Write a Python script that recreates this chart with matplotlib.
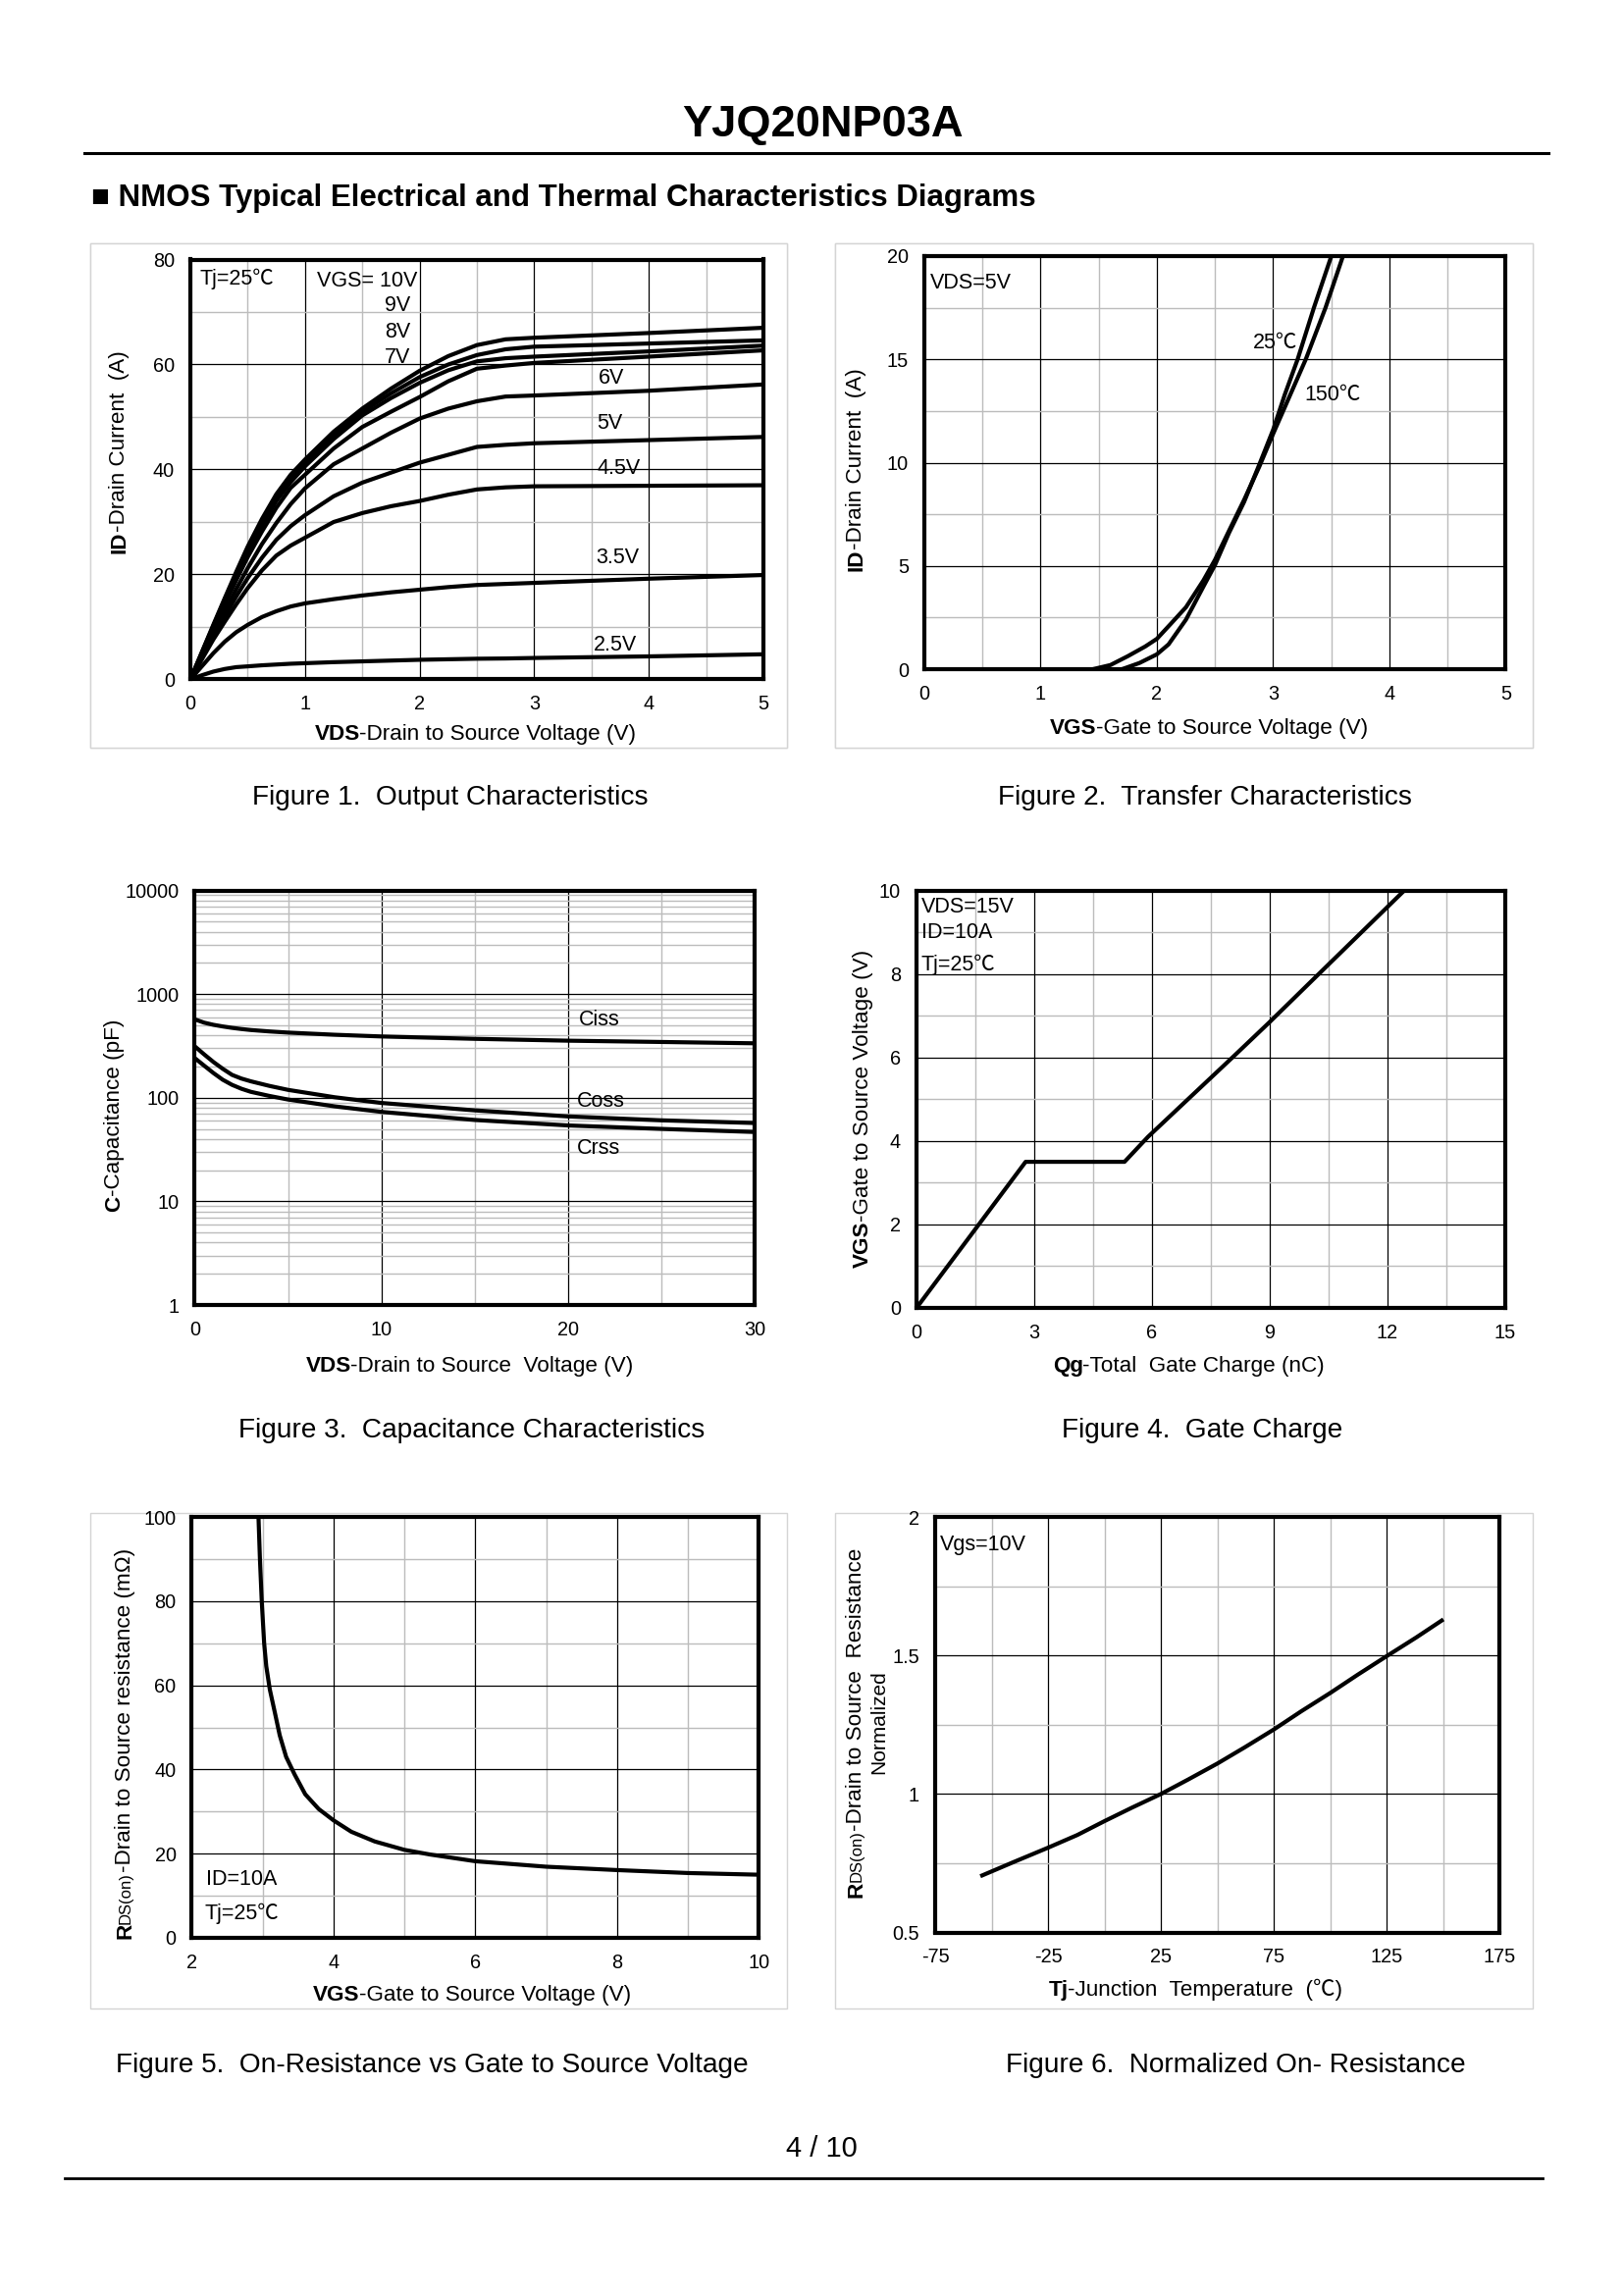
import matplotlib
matplotlib.use("Agg")
import matplotlib.pyplot as plt
from matplotlib.patches import Rectangle
from matplotlib.lines import Line2D
from matplotlib.ticker import NullFormatter

plt.rcParams['font.family'] = ['Liberation Sans', 'Noto Sans CJK SC', 'DejaVu Sans']
W, H = 1656, 2339
DPI = 100

# ---- Figure 1 data
f1_x = [0, .1, .2, .3, .4, .5, .625, .75, .875, 1, 1.25, 1.5, 1.75, 2, 2.25, 2.5, 2.75, 3, 4, 5]
f1_10v = [0, 5.2, 10.4, 15.5, 20.5, 25.3, 30.6, 35.3, 39, 41.9, 47.2, 51.6, 55.4, 58.8, 61.6, 63.7, 64.8, 65.1, 66, 67]
f1_9v = [0, 5.1, 10.2, 15.2, 20.1, 24.8, 30, 34.7, 38.4, 41.3, 46.5, 51, 54.5, 57.6, 60, 61.8, 62.9, 63.4, 64, 64.6]
f1_8v = [0, 5, 10, 14.9, 19.7, 24.3, 29.4, 34, 37.6, 40.6, 45.8, 50.3, 53.6, 56.5, 58.9, 60.6, 61.2, 61.5, 62.5, 63.6]
f1_7v = [0, 4.8, 9.6, 14.3, 18.9, 23.3, 28.2, 32.7, 36.5, 39, 44, 48.1, 51, 53.8, 56.8, 59.2, 59.8, 60.3, 61.5, 62.7]
f1_6v = [0, 4.4, 8.8, 13, 17.2, 21.2, 25.8, 29.8, 33.4, 36.4, 41, 44, 47, 49.7, 51.6, 53, 53.9, 54.1, 55, 56.2]
f1_5v = [0, 4.1, 8.1, 12, 15.8, 19.3, 23.2, 26.6, 29.2, 31.3, 34.9, 37.5, 39.4, 41.3, 42.8, 44.3, 44.7, 45, 45.6, 46.2]
f1_45v = [0, 3.8, 7.6, 11, 14.3, 17.4, 20.8, 23.6, 25.5, 27, 30, 31.7, 33, 34, 35.2, 36.2, 36.6, 36.8, 36.9, 37]
f1_35v = [0, 2.5, 5, 7.2, 9, 10.4, 11.9, 13, 13.9, 14.5, 15.3, 16, 16.6, 17.1, 17.6, 18, 18.2, 18.4, 19.2, 19.9]
f1_25v = [0, .8, 1.5, 2, 2.35, 2.5, 2.7, 2.85, 3, 3.1, 3.3, 3.45, 3.6, 3.75, 3.85, 3.95, 4, 4.1, 4.4, 4.8]
f1_series = [f1_10v, f1_9v, f1_8v, f1_7v, f1_6v, f1_5v, f1_45v, f1_35v, f1_25v]

# ---- Figure 2 data
f2_x_150 = [1.45, 1.6, 1.75, 1.9, 2, 2.12, 2.25, 2.4, 2.5, 2.62, 2.75, 2.88, 3, 3.14, 3.28, 3.45, 3.6]
f2_150 = [0, 0.2, 0.63, 1.1, 1.47, 2.2, 3, 4.3, 5.3, 6.7, 8.2, 9.8, 11.4, 13.2, 15, 17.5, 20]
f2_x_25 = [1.7, 1.75, 1.85, 2, 2.1, 2.25, 2.4, 2.5, 2.62, 2.75, 2.88, 3, 3.1, 3.21, 3.35, 3.5]
f2_25 = [0, 0.1, 0.3, 0.72, 1.2, 2.4, 4, 5.05, 6.6, 8.1, 9.9, 11.6, 13.3, 15, 17.5, 20]

# ---- Figure 3 data
f3_x = [0, 0.5, 1, 1.5, 2, 2.5, 3, 4, 5, 7.5, 10, 15, 20, 25, 30]
f3_ciss = [570, 530, 505, 487, 472, 460, 450, 436, 425, 405, 390, 370, 355, 345, 335]
f3_coss = [313, 262, 221, 190, 166, 153, 144, 130, 119, 101, 89, 75.5, 66, 60.5, 57]
f3_crss = [241, 204, 173, 149, 133, 122, 114, 104, 96, 82.5, 73, 61, 54, 50, 46.7]

# ---- Figure 4 data
f4_q = [0, 2.78, 5.3, 5.9, 8.05, 9, 10.25, 12.43]
f4_v = [0, 3.5, 3.5, 4.1, 6, 6.85, 8, 10]

# ---- Figure 5 data
f5_v = [2.94, 2.96, 2.986, 3.02, 3.05, 3.1, 3.17, 3.24, 3.33, 3.45, 3.6, 3.79, 4, 4.25, 4.58, 5, 5.36, 6, 7, 8, 9, 10]
f5_r = [100, 90.2, 80, 70, 64.5, 59, 53.6, 48.1, 43, 38.8, 34.1, 30.6, 27.9, 25.2, 22.9, 20.9, 19.8, 18.2, 16.9, 16.1, 15.4, 15]

# ---- Figure 6 data
f6_t = [-55, -40, -25, -12, 0, 12, 25, 37, 50, 62, 75, 87, 100, 112, 125, 138, 150]
f6_r = [0.703, 0.755, 0.806, 0.852, 0.902, 0.95, 1.0, 1.052, 1.11, 1.168, 1.233, 1.298, 1.365, 1.43, 1.498, 1.565, 1.63]

captions = ["Figure 1.  Output Characteristics", "Figure 2.  Transfer Characteristics",
            "Figure 3.  Capacitance Characteristics", "Figure 4.  Gate Charge",
            "Figure 5.  On-Resistance vs Gate to Source Voltage", "Figure 6.  Normalized On- Resistance"]

fig = plt.figure(figsize=(W / DPI, H / DPI), dpi=DPI, facecolor='white')


def fx(x):
    return x / W


def fy(y):
    return 1 - y / H


def ptext(x, y, s, **kw):
    kw.setdefault('ha', 'center')
    kw.setdefault('va', 'center')
    return fig.text(fx(x), fy(y), s, **kw)


def mixed(cx, cy, parts, rotation=0):
    """Centred run of (text, size, weight) parts at pixel centre."""
    r = fig.canvas.get_renderer()
    widths = []
    for s, size, weight in parts:
        t = fig.text(0, 0, s, fontsize=size, fontweight=weight)
        widths.append(t.get_window_extent(r).width - 0.5)
        t.remove()
    total = sum(widths)
    base = max(p[1] for p in parts) * DPI / 72 * 0.36
    pos = -total / 2
    for (s, size, weight), w in zip(parts, widths):
        if rotation == 0:
            x, y = cx + pos, cy + base
        else:
            x, y = cx + base, cy - pos
        fig.text(fx(x), fy(y), s, fontsize=size, fontweight=weight, rotation=rotation,
                 rotation_mode='anchor', ha='left', va='baseline')
        pos += w


def panel(frame, box, xlim, ylim, xticks, xlabels, yticks, ylabels, xminor, yminor, log=False):
    fig.add_artist(Rectangle((fx(frame[0]), fy(frame[3])), (frame[2] - frame[0]) / W,
                             (frame[3] - frame[1]) / H, transform=fig.transFigure,
                             fc='white', ec='#d4d4d4', lw=1, zorder=-5))
    ax = fig.add_axes([fx(box[0]), fy(box[3]), (box[2] - box[0]) / W, (box[3] - box[1]) / H])
    if log:
        ax.set_yscale('log')
    ax.set_xlim(xlim)
    ax.set_ylim(ylim)
    ax.set_xticks(xticks, xlabels, fontsize=14.3)
    ax.set_yticks(yticks, ylabels, fontsize=14.3)
    ax.set_xticks(xminor, minor=True)
    ax.set_yticks(yminor, minor=True)
    ax.xaxis.set_minor_formatter(NullFormatter())
    ax.yaxis.set_minor_formatter(NullFormatter())
    ax.tick_params(which='both', length=0)
    ax.tick_params(axis='x', pad=11.5)
    ax.tick_params(axis='y', pad=11.5)
    ax.grid(which='minor', color='#bcbcbc', lw=1.0)
    ax.grid(which='major', color='black', lw=0.9)
    ax.set_axisbelow(True)
    for s in ax.spines.values():
        s.set_linewidth(3.0)
        s.set_zorder(10)
    return ax


def curve(ax, x, y):
    ax.plot(x, y, color='black', lw=3.0, solid_joinstyle='round', solid_capstyle='butt', zorder=3)


def notes(ax, items):
    for x, y, s in items:
        ax.text(x, y, s, fontsize=15.5, ha='left', va='center', zorder=4)


LBL = 16.2
FX1 = (92, 248, 802, 762)
FX2 = (851.5, 248, 1562, 762)

# Figure 1
a = panel(FX1, (194, 264.5, 778, 692.5), (0, 5), (0, 80), [0, 1, 2, 3, 4, 5], list("012345"),
          [0, 20, 40, 60, 80], ['0', '20', '40', '60', '80'], [0.5, 1.5, 2.5, 3.5, 4.5], [10, 30, 50, 70])
for s in f1_series:
    curve(a, f1_x, s)
notes(a, [(0.08, 76.3, 'Tj=25℃'), (1.108, 75.8, 'VGS= 10V'), (1.696, 71.2, '9V'), (1.696, 66.2, '8V'),
          (1.696, 61.4, '7V'), (3.563, 57.3, '6V'), (3.55, 48.7, '5V'), (3.55, 40.1, '4.5V'),
          (3.54, 23.1, '3.5V'), (3.52, 6.5, '2.5V')])
mixed(484, 745.5, [('VDS', LBL, 'bold'), ('-Drain to Source Voltage (V)', LBL, 'normal')])
mixed(119, 461, [('ID', LBL, 'bold'), ('-Drain Current  (A)', LBL, 'normal')], rotation=90)

# Figure 2
a = panel(FX2, (942, 261, 1534.5, 682), (0, 5), (0, 20), [0, 1, 2, 3, 4, 5], list("012345"),
          [0, 5, 10, 15, 20], ['0', '5', '10', '15', '20'], [0.5, 1.5, 2.5, 3.5, 4.5], [2.5, 7.5, 12.5, 17.5])
curve(a, f2_x_150, f2_150)
curve(a, f2_x_25, f2_25)
notes(a, [(0.05, 18.7, 'VDS=5V'), (2.825, 15.8, '25℃'), (3.27, 13.3, '150℃')])
mixed(1232, 739.5, [('VGS', LBL, 'bold'), ('-Gate to Source Voltage (V)', LBL, 'normal')])
mixed(870, 479, [('ID', LBL, 'bold'), ('-Drain Current  (A)', LBL, 'normal')], rotation=90)

# Figure 3
log_minor = [m * 10 ** d for d in range(4) for m in range(2, 10)]
a = panel(FX1, (198.5, 907.5, 769, 1330), (0, 30), (1, 10000), [0, 10, 20, 30], ['0', '10', '20', '30'],
          [1, 10, 100, 1000, 10000], ['1', '10', '100', '1000', '10000'], [5, 15, 25], log_minor, log=True)
curve(a, f3_x, f3_ciss)
curve(a, f3_x, f3_coss)
curve(a, f3_x, f3_crss)
notes(a, [(20.57, 557, 'Ciss'), (20.45, 92, 'Coss'), (20.45, 32.7, 'Crss')])
mixed(478.5, 1389.5, [('VDS', LBL, 'bold'), ('-Drain to Source  Voltage (V)', LBL, 'normal')])
mixed(114, 1137, [('C', LBL, 'bold'), ('-Capacitance (pF)', LBL, 'normal')], rotation=90)

# Figure 4
a = panel(FX2, (934, 907.5, 1534, 1333), (0, 15), (0, 10), [0, 3, 6, 9, 12, 15], ['0', '3', '6', '9', '12', '15'],
          [0, 2, 4, 6, 8, 10], ['0', '2', '4', '6', '8', '10'], [1.5, 4.5, 7.5, 10.5, 13.5], [1, 3, 5, 7, 9])
curve(a, f4_q, f4_v)
notes(a, [(0.12, 9.59, 'VDS=15V'), (0.12, 8.98, 'ID=10A'), (0.12, 8.22, 'Tj=25℃')])
mixed(1211, 1389.5, [('Qg', LBL, 'bold'), ('-Total  Gate Charge (nC)', LBL, 'normal')])
mixed(877, 1130, [('VGS', LBL, 'bold'), ('-Gate to Source Voltage (V)', LBL, 'normal')], rotation=90)

# Figure 5
FY1 = (92, 1542, 802, 2047)
FY2 = (851.5, 1542, 1562, 2047)
a = panel(FY1, (195.5, 1546, 773.5, 1975), (2, 10), (0, 100), [2, 4, 6, 8, 10], ['2', '4', '6', '8', '10'],
          [0, 20, 40, 60, 80, 100], ['0', '20', '40', '60', '80', '100'], [3, 5, 7, 9], [10, 30, 50, 70, 90])
curve(a, f5_v, f5_r)
notes(a, [(2.2, 13.9, 'ID=10A'), (2.18, 5.85, 'Tj=25℃')])
mixed(481, 2031, [('VGS', LBL, 'bold'), ('-Gate to Source Voltage (V)', LBL, 'normal')])
mixed(125, 1777.5, [('R', LBL, 'bold'), ('DS(on)', 12, 'normal'),
                    ('-Drain to Source resistance (mΩ)', LBL, 'normal')], rotation=90)

# Figure 6
a = panel(FY2, (953, 1546, 1528.5, 1969.5), (-75, 175), (0.5, 2), [-75, -25, 25, 75, 125, 175],
          ['-75', '-25', '25', '75', '125', '175'], [0.5, 1, 1.5, 2], ['0.5', '1', '1.5', '2'],
          [-50, 0, 50, 100, 150], [0.75, 1.25, 1.75])
curve(a, f6_t, f6_r)
notes(a, [(-73, 1.9, 'Vgs=10V')])
mixed(1218, 2026, [('Tj', LBL, 'bold'), ('-Junction  Temperature  (℃)', LBL, 'normal')])
mixed(870, 1756, [('R', LBL, 'bold'), ('DS(on)', 12, 'normal'),
                  ('-Drain to Source  Resistance', LBL, 'normal')], rotation=90)
ptext(896, 1755, 'Normalized', fontsize=15, rotation=90)

# Page furniture
ptext(838, 127, 'YJQ20NP03A', fontsize=32.6, fontweight='bold')
fig.add_artist(Line2D([fx(86), fx(1578)], [fy(156), fy(156)], color='black', lw=2.2))
ptext(93, 202, '■ NMOS Typical Electrical and Thermal Characteristics Diagrams', fontsize=22.5,
      fontweight='bold', ha='left')
for (cx, cy), s in zip([(459, 813), (1228, 813), (481, 1458), (1225, 1458), (440, 2105), (1259, 2105)], captions):
    ptext(cx, cy, s, fontsize=20.2)
ptext(837, 2190, '4 / 10', fontsize=21)
fig.add_artist(Line2D([fx(66), fx(1572)], [fy(2220), fy(2220)], color='black', lw=2.0))

fig.savefig('out.png', dpi=DPI)
